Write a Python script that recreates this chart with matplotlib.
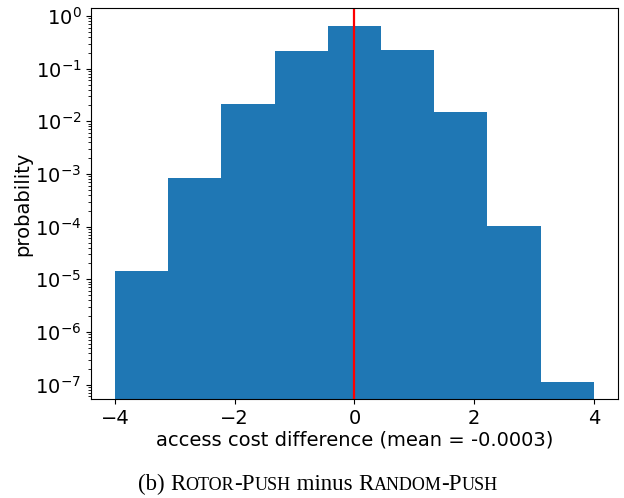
import numpy as np
import matplotlib
matplotlib.use("Agg")
import matplotlib.pyplot as plt

# histogram: 9 equal bins between -4 and 4
bin_edges = np.linspace(-4, 4, 10)
probability = [1.42e-5, 8.4e-4, 2.1e-2, 0.22, 0.65, 0.23, 1.48e-2, 1.05e-4, 1.14e-7]
mean_diff = -0.0003

fig = plt.figure(figsize=(6.24, 4.98), dpi=100)
ax = fig.add_axes([0.146, 0.199, 0.844, 0.785])

ax.hist(bin_edges[:-1], bins=bin_edges, weights=probability, color='#1f77b4')
ax.set_yscale('log')
ax.axvline(0, color='red', linewidth=1.6)
ax.set_xlim(-4.4, 4.4)
ax.set_ylim(10 ** -7.27, 10 ** 0.152)
ax.set_xticks([-4, -2, 0, 2, 4])
ax.tick_params(labelsize=14)
ax.set_xlabel('access cost difference (mean = %.4f)' % mean_diff, fontsize=14, labelpad=2)
ax.set_ylabel('probability', fontsize=14, labelpad=2)

# caption under the plot, small caps done by hand
big, small = 16.5, 13
pieces = [('(b) ', big), ('R', big), ('OTOR', small), ('-P', big), ('USH', small),
          (' minus ', big), ('R', big), ('ANDOM', small), ('-P', big), ('USH', small)]
fig.canvas.draw()
r = fig.canvas.get_renderer()
texts = []
for s, fs in pieces:
    t = fig.text(0.3, 0.016, s, fontsize=fs, family='Liberation Serif', va='baseline')
    texts.append(t)
widths = [t.get_window_extent(r).width for t in texts]
x = 318 - sum(widths) / 2
for t, w in zip(texts, widths):
    t.set_x(x / 624)
    x += w

fig.savefig('out.png', dpi=100)
